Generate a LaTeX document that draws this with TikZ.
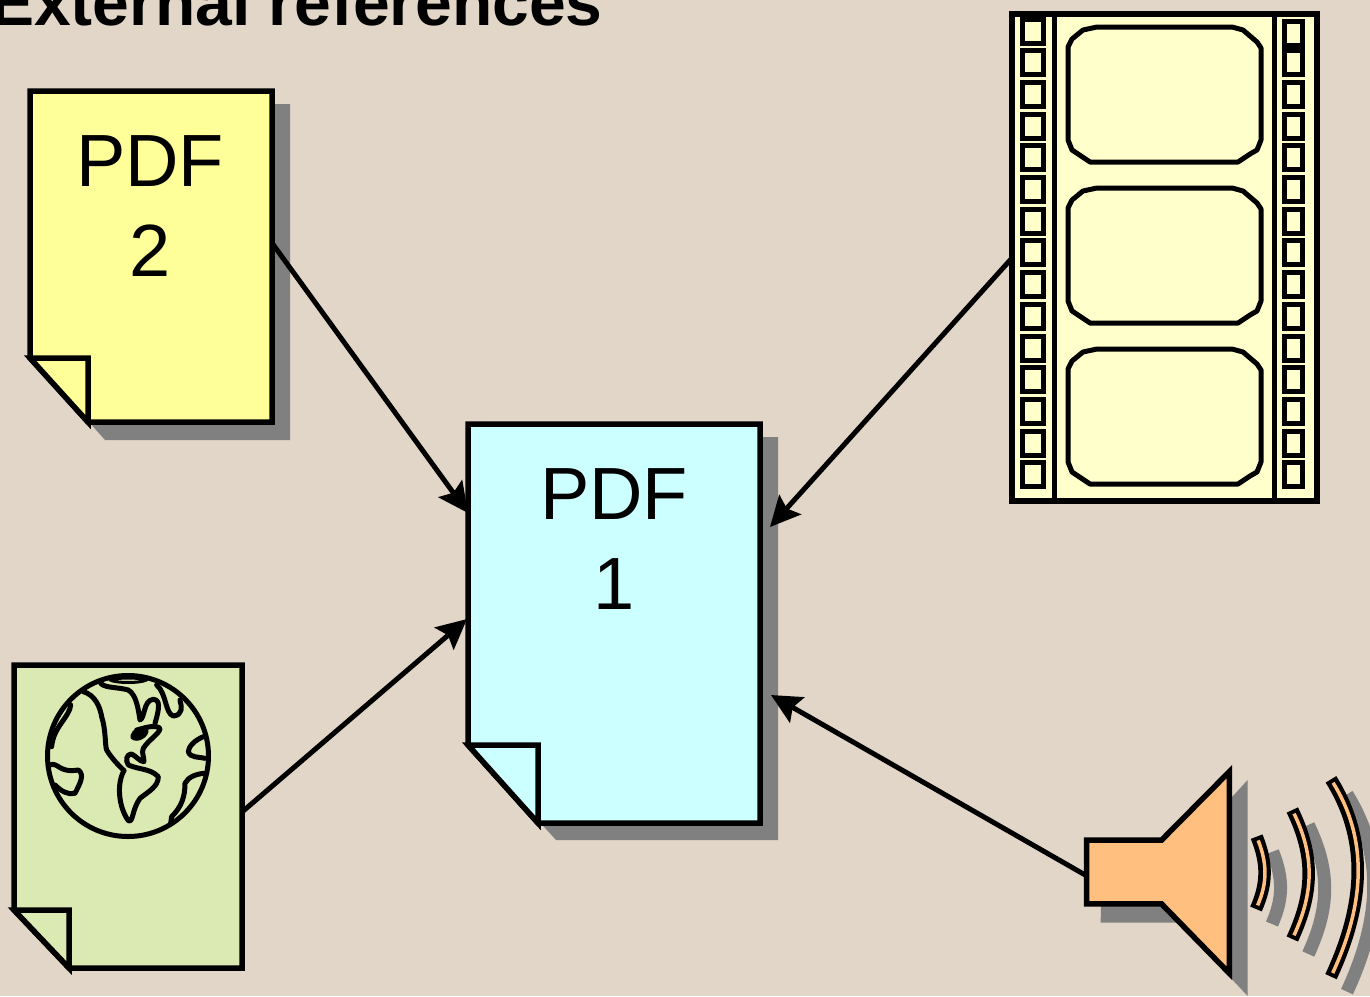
\documentclass[tikz,border=0pt]{standalone}
\usepackage{fontspec}
\setmainfont{Liberation Sans}
\usetikzlibrary{arrows.meta}
\usetikzlibrary{positioning}
\definecolor{Paper}{RGB}{225,214,199}
\definecolor{Shade}{RGB}{128,128,128}
\definecolor{Yellow}{RGB}{255,255,153}
\definecolor{Cyan}{RGB}{204,255,255}
\definecolor{Green}{RGB}{218,234,178}
\definecolor{Cream}{RGB}{255,255,204}
\definecolor{Orange}{RGB}{255,191,127}
\tikzset{
    page/.style={draw=black, line width=5.5pt, line join=miter, miter limit=10},
    shade/.style={fill=Shade, draw=none},
    area/.style={draw=none, inner sep=0pt},
    pagetext/.style={font=\fontsize{74}{90}\selectfont, align=center, inner sep=0pt},
    hole/.style={draw=black, fill=Cream, line width=5pt, minimum width=21.5pt, minimum height=24pt, inner sep=0pt},
    rhole/.style={hole, minimum width=18pt},
    frame/.style={draw=black, fill=Cream, line width=5pt, line join=round},
    link/.style={-{Stealth[length=30pt,width=29pt,inset=5pt]}, line width=5pt},
    land/.style={line width=5pt, line cap=round, line join=round},
    waveshade/.style={draw=Shade, line width=13pt},
    waveouter/.style={draw=black, line width=12.5pt},
    waveinner/.style={draw=Orange, line width=3.5pt, shorten >=4pt, shorten <=4pt}
}
\begin{document}
\begin{tikzpicture}[x=1pt,y=-1pt]
        \useasboundingbox (0,0) rectangle (1370,996);
        \clip (0,0) rectangle (1370,996);
        \fill[Paper] (0,0) rectangle (1370,996);
        \node[anchor=base east, inner sep=0pt, font=\fontsize{66}{66}\selectfont\bfseries] (Title) at (603,25) {External references};

        % pdf 2
        \fill[shade] (47,104) -- (290,104) -- (290,440) -- (105,440) -- (47,375) -- cycle;
        \draw[page, fill=Yellow] (30,91) -- (272,91) -- (272,422) -- (88,422) -- (30,358) -- cycle;
        \draw[page, fill=Yellow] (30,358) -- (88,358) -- (88,422) -- cycle;
        \node[area, minimum width=242pt, minimum height=331pt] (P2) at (150,256.5) {};
        \node[pagetext, below=45pt of P2.north] (P2t) {PDF\\2};

        % pdf 1
        \fill[shade] (485,437) -- (778,437) -- (778,840) -- (556,840) -- (485,762) -- cycle;
        \draw[page, fill=Cyan] (468,424) -- (760,424) -- (760,823) -- (538,823) -- (468,745) -- cycle;
        \draw[page, fill=Cyan] (468,745) -- (538,745) -- (538,823) -- cycle;
        \node[area, minimum width=292pt, minimum height=399pt] (P1) at (614,623.5) {};
        \node[pagetext, below=45pt of P1.north] (P1t) {PDF\\1};

        % web page with globe
        \draw[page, fill=Green] (14,665) -- (242,665) -- (242,968) -- (69,968) -- (14,910) -- cycle;
        \draw[page, fill=Green] (14,910) -- (69,910) -- (69,968) -- cycle;
        \node[area, minimum width=228pt, minimum height=303pt] (W) at (128,816.5) {};
        \node[circle, draw=black, line width=5pt, minimum size=161pt, inner sep=0pt] (G) at (128,756) {};
        \begin{scope}[shift={(0,650)}, x=0.3333pt, y=-0.3333pt]
            \draw[land] (250,125) .. controls (285,135) and (300,170) .. (305,200) .. controls (318,240) and (315,290) .. (320,300) .. controls (335,325) and (355,345) .. (372,362);
            \draw[land] (372,362) .. controls (350,400) and (355,470) .. (385,512) .. controls (400,520) and (395,480) .. (420,445) .. controls (445,425) and (475,410) .. (475,380) .. controls (450,355) and (420,360) .. (385,345) .. controls (375,330) and (380,312) .. (395,312) .. controls (410,320) and (420,335) .. (432,335) .. controls (430,310) and (425,310) .. (430,295) .. controls (445,270) and (480,250) .. (480,235) .. controls (465,222) and (430,235) .. (410,240);
            \draw[land] (300,95) .. controls (305,115) and (350,110) .. (385,120) .. controls (410,135) and (415,180) .. (420,210) .. controls (435,205) and (430,150) .. (460,148) .. controls (480,150) and (480,170) .. (465,220);
            \draw[land, line width=3pt] (330,90) .. controls (350,82) and (420,82) .. (440,90) .. controls (420,100) and (350,100) .. (330,90);
            \draw[land] (470,105) .. controls (500,130) and (495,190) .. (520,198) .. controls (550,195) and (545,170) .. (540,150);
            \draw[land] (610,260) .. controls (585,270) and (565,290) .. (565,305) .. controls (570,325) and (600,320) .. (615,325);
            \draw[land] (612,370) .. controls (590,372) and (565,380) .. (555,400) .. controls (555,440) and (545,470) .. (515,500) -- (512,520);
            \draw[land] (212,165) .. controls (210,200) and (160,230) .. (155,290);
            \draw[land] (150,345) .. controls (175,335) and (175,370) .. (235,360) .. controls (255,375) and (240,400) .. (225,430) .. controls (205,435) and (185,425) .. (165,405);
            \fill (392,255) .. controls (395,235) and (425,230) .. (445,240) .. controls (450,260) and (410,285) .. (392,265) -- cycle;
        \end{scope}

        % film strip
        \node[draw=black, fill=Cream, line width=5.5pt, minimum width=305pt, minimum height=487pt, inner sep=0pt] (F) at (1164.5,257.5) {};
        \draw[line width=5pt] (F.north west -| 1054.5,0) -- (F.south west -| 1054.5,0);
        \draw[line width=5pt] (F.north west -| 1274.5,0) -- (F.south west -| 1274.5,0);
        \foreach \i in {0,...,14} {
            \node[hole] (L\i) at (1033,31+31.7*\i) {};
        }
        \foreach \i in {1,...,14} {
            \node[rhole] (R\i) at (1293.5,31+31.7*\i) {};
        }
        \node[rhole] (R0) at (1293.5,33) {};
        \foreach \y in {0,161,322} {
            \draw[frame, shift={(0,\y)}] (1068,47) -- (1072,39) -- (1083,30) -- (1097,27) -- (1232,27) -- (1243,30) -- (1257,42) -- (1261,48) -- (1261,140) -- (1257,150) -- (1250,154) -- (1238,162) -- (1090,162) -- (1078,154) -- (1072,150) -- (1068,140) -- cycle;
        }

        % loudspeaker
        \begin{scope}[shift={(1070,760)}, x=0.3333pt, y=-0.3333pt]
            \fill[shade] (95,285) -- (326,285) -- (533,60) -- (533,708) -- (326,488) -- (92,488) -- cycle;
            \begin{scope}[shift={(48,45)}]
                \draw[waveshade] (560,230) .. controls (592,310) and (592,370) .. (558,447);
                \draw[waveshade] (667,150) .. controls (735,290) and (730,400) .. (667,537);
                \draw[waveshade] (783,58) .. controls (890,230) and (890,420) .. (783,650);
            \end{scope}
            \draw[page, fill=Orange] (50,240) -- (275,240) -- (478,35) -- (478,640) -- (275,432) -- (50,432) -- cycle;
            \draw[waveouter] (560,230) .. controls (592,310) and (592,370) .. (558,447);
            \draw[waveinner] (560,230) .. controls (592,310) and (592,370) .. (558,447);
            \draw[waveouter] (667,150) .. controls (735,290) and (730,400) .. (667,537);
            \draw[waveinner] (667,150) .. controls (735,290) and (730,400) .. (667,537);
            \draw[waveouter] (783,58) .. controls (890,230) and (890,420) .. (783,650);
            \draw[waveinner] (783,58) .. controls (890,230) and (890,420) .. (783,650);
            \node[area, minimum width=142.6pt, minimum height=201.6pt] (S) at (264,337) {};
        \end{scope}

        % arrow ends
        \coordinate (P2out) at (272,243);
        \coordinate (Wout) at (242,812);
        \coordinate (Fout) at (1012,258);
        \coordinate (Sout) at (1087,876);
        \coordinate (P1a) at (468,513);
        \coordinate (P1b) at (467,619);
        \coordinate (P1c) at (770,527);
        \coordinate (P1d) at (771,695);

        % edges
        \draw[link] (P2out) -- (P1a);
        \draw[link] (Wout) -- (P1b);
        \draw[link] (Fout) -- (P1c);
        \draw[link] (Sout) -- (P1d);
\end{tikzpicture}
\end{document}
